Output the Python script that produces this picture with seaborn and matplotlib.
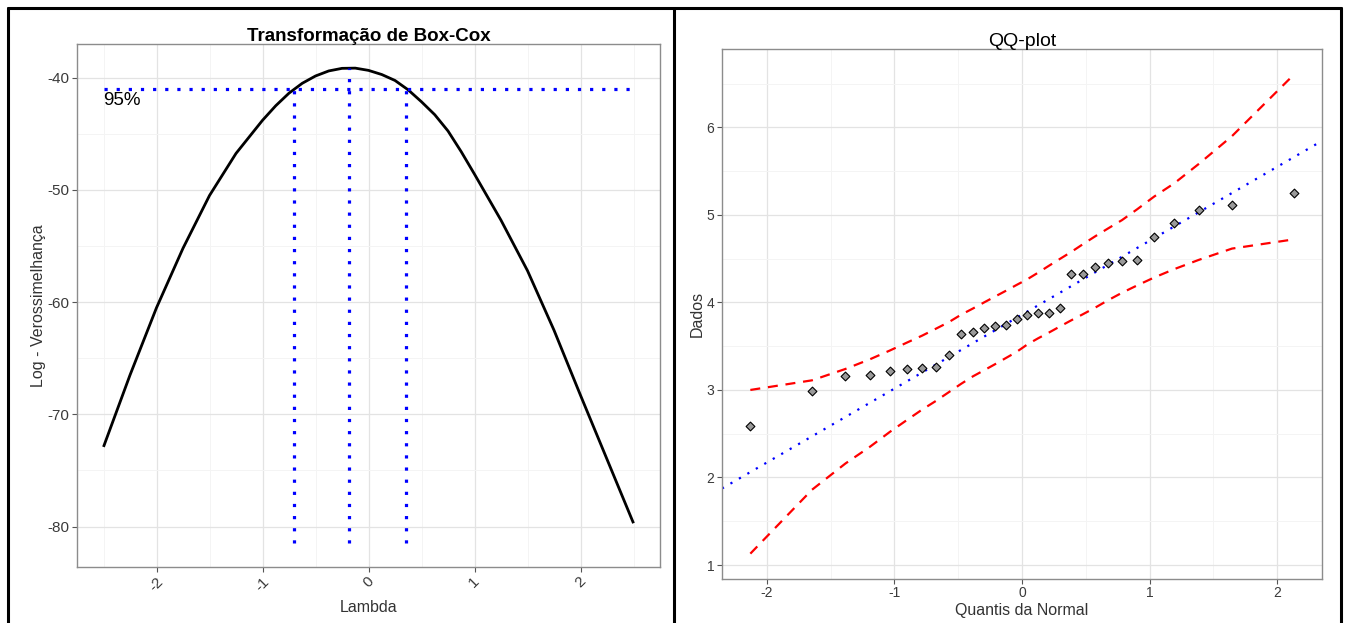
import matplotlib
matplotlib.use("Agg")
import matplotlib.pyplot as plt
import seaborn as sns
from matplotlib.lines import Line2D
from matplotlib.ticker import MultipleLocator

# ---------------- data: Box-Cox profile log-likelihood ----------------
lam = [-2.5, -2.25, -2.0, -1.75, -1.5, -1.25, -1.0, -0.875, -0.75, -0.625,
       -0.5, -0.375, -0.25, -0.125, 0.0, 0.125, 0.25, 0.375, 0.5, 0.625,
       0.75, 0.875, 1.0, 1.25, 1.5, 1.75, 2.0, 2.25, 2.5]
loglik = [-72.9, -66.5, -60.5, -55.2, -50.5, -46.75, -43.8, -42.5, -41.38, -40.5,
          -39.85, -39.4, -39.17, -39.15, -39.35, -39.72, -40.25, -41.09, -42.15, -43.3,
          -44.75, -46.6, -48.6, -52.7, -57.2, -62.5, -68.3, -74.0, -79.7]
ci_lambda = [-0.70, -0.18, 0.35]          # lower CI, MLE, upper CI
ci_top = [-41.05, -39.13, -41.05]
ci_bottom = -81.5
level95_x = [-2.5, 2.5]
level95_y = [-41.05, -41.05]
label95 = "95%"

# ---------------- data: QQ-plot ----------------
theo = [-2.128, -1.645, -1.383, -1.192, -1.036, -0.903, -0.783, -0.674, -0.573, -0.477,
        -0.385, -0.297, -0.210, -0.126, -0.042, 0.042, 0.126, 0.210, 0.297, 0.385,
        0.477, 0.573, 0.674, 0.783, 0.903, 1.036, 1.192, 1.383, 1.645, 2.128]
dados = [2.59, 2.99, 3.155, 3.175, 3.215, 3.235, 3.25, 3.26, 3.40, 3.635,
         3.66, 3.705, 3.73, 3.74, 3.81, 3.86, 3.875, 3.875, 3.935, 4.32,
         4.32, 4.40, 4.455, 4.475, 4.485, 4.75, 4.905, 5.055, 5.11, 5.245]
upper = [3.00, 3.11, 3.24, 3.35, 3.45, 3.54, 3.62, 3.70, 3.775, 3.86,
         3.93, 4.00, 4.068, 4.133, 4.20, 4.265, 4.34, 4.418, 4.497, 4.576,
         4.665, 4.755, 4.845, 4.94, 5.065, 5.21, 5.36, 5.58, 5.90, 6.60]
lower = [1.13, 1.86, 2.16, 2.35, 2.52, 2.655, 2.775, 2.875, 2.975, 3.07,
         3.155, 3.225, 3.295, 3.365, 3.435, 3.52, 3.59, 3.655, 3.725, 3.795,
         3.865, 3.94, 4.025, 4.11, 4.195, 4.285, 4.38, 4.485, 4.615, 4.72]
qq_intercept = 3.86
qq_slope = 0.845

# ---------------- style ----------------
sns.set_theme(style="white")
plt.rcParams['font.family'] = ['Liberation Sans', 'DejaVu Sans']
plt.rcParams['axes.unicode_minus'] = False

TICK_COL = '#3a3a3a'
TITLE_COL = '#333333'

fig = plt.figure(figsize=(13.48, 6.23), dpi=100)
W, H = 1348.0, 623.0


def box(l, t, r, b):
    return [l / W, 1 - b / H, (r - l) / W, (b - t) / H]


ax1 = fig.add_axes(box(77, 44, 660, 567))
ax2 = fig.add_axes(box(722, 49, 1322, 578.6))


def style_axes(ax, xmaj, xmin, ymaj, ymin, tsize):
    ax.set_facecolor('white')
    ax.xaxis.set_major_locator(MultipleLocator(xmaj))
    ax.xaxis.set_minor_locator(MultipleLocator(xmin))
    ax.yaxis.set_major_locator(MultipleLocator(ymaj))
    ax.yaxis.set_minor_locator(MultipleLocator(ymin))
    ax.set_axisbelow(True)
    ax.grid(which='major', color='#E3E3E3', lw=0.9)
    ax.grid(which='minor', color='#F4F4F4', lw=0.7)
    for s in ax.spines.values():
        s.set_color('#8c8c8c')
        s.set_linewidth(1.0)
    ax.tick_params(which='major', length=3.5, width=0.8, color='#555555',
                   labelsize=tsize, labelcolor=TICK_COL, pad=2,
                   bottom=True, left=True)
    ax.tick_params(which='minor', length=0, bottom=False, left=False)


# ---------------- left panel ----------------
sns.lineplot(x=lam, y=loglik, ax=ax1, color='black', lw=2.0,
             solid_joinstyle='round', solid_capstyle='butt')
sns.lineplot(x=level95_x, y=level95_y, ax=ax1, color='blue', lw=2.3,
             linestyle=(0, (1, 2.8)))
ax1.vlines(ci_lambda, ci_bottom, ci_top, colors='blue', lw=2.3,
           linestyles=[(0, (1, 2.8))])
ax1.text(level95_x[0], -42.0, label95, fontsize=13.5, ha='left', va='center',
         color='black')

ax1.set_xlim(-2.75, 2.75)
ax1.set_ylim(-83.6, -37.0)
style_axes(ax1, 1, 0.5, 10, 5, 11)
plt.setp(ax1.get_xticklabels(), rotation=45, ha='center', va='top')
ax1.set_xlabel("Lambda", fontsize=11.5, color=TITLE_COL, labelpad=4)
ax1.set_ylabel("Log - Verossimelhança", fontsize=11.5, color=TITLE_COL, labelpad=1)
ax1.set_title("Transformação de Box-Cox", fontsize=13.5, fontweight='bold',
              color='black', pad=2)

# ---------------- right panel ----------------
sns.lineplot(x=theo, y=upper, ax=ax2, color='red', lw=1.6,
             linestyle=(0, (4.5, 3.5)))
sns.lineplot(x=theo, y=lower, ax=ax2, color='red', lw=1.6,
             linestyle=(0, (4.5, 3.5)))
ax2.axline((0, qq_intercept), slope=qq_slope, color='blue', lw=1.6,
           linestyle=(0, (1, 3.4)))
sns.scatterplot(x=theo, y=dados, ax=ax2, marker='D', s=20, color='#9a9a9a',
                edgecolor='black', linewidth=0.8, zorder=5)

ax2.set_xlim(-2.35, 2.35)
ax2.set_ylim(0.845, 6.895)
style_axes(ax2, 1, 0.5, 1, 0.5, 10)
ax2.set_xlabel("Quantis da Normal", fontsize=11.5, color=TITLE_COL, labelpad=2)
ax2.set_ylabel("Dados", fontsize=11.5, color=TITLE_COL, labelpad=1)
ax2.set_title("QQ-plot", fontsize=14, color='black', pad=2)

# ---------------- outer panel frames ----------------
ytop = 1 - 8 / H
for xpix in (8, 674, 1341):
    fig.add_artist(Line2D([xpix / W, xpix / W], [0, ytop], transform=fig.transFigure,
                          color='black', lw=2.2))
fig.add_artist(Line2D([8 / W, 1341 / W], [ytop, ytop], transform=fig.transFigure,
                      color='black', lw=2.2))

fig.savefig("out.png", dpi=100, facecolor='white')
